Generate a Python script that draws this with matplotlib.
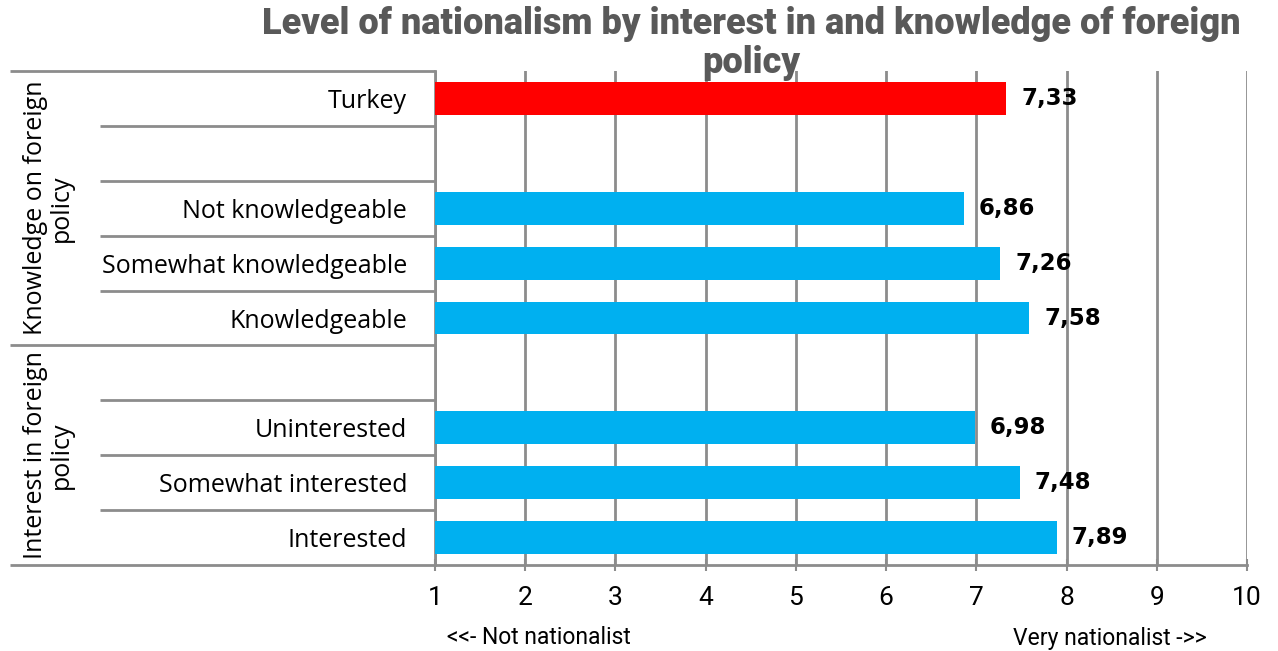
import matplotlib
matplotlib.use("Agg")
import matplotlib.pyplot as plt
from matplotlib.transforms import blended_transform_factory

# Rows from top to bottom; empty strings are spacer rows
categories = ["Turkey", "", "Not knowledgeable", "Somewhat knowledgeable",
              "Knowledgeable", "", "Uninterested", "Somewhat interested",
              "Interested"]
values = [7.33, None, 6.86, 7.26, 7.58, None, 6.98, 7.48, 7.89]
value_labels = ["7,33", "", "6,86", "7,26", "7,58", "", "6,98", "7,48", "7,89"]
bar_colors = ["#FF0000", None, "#00B0F0", "#00B0F0", "#00B0F0", None,
              "#00B0F0", "#00B0F0", "#00B0F0"]

group_names = ["Knowledge on foreign\npolicy", "Interest in foreign\npolicy"]
group_spans = [(0, 4), (5, 8)]  # first and last row index of each group

x_ticks = [1, 2, 3, 4, 5, 6, 7, 8, 9, 10]
title = "Level of nationalism by interest in and knowledge of foreign\npolicy"
left_note = "<<- Not nationalist"
right_note = "Very nationalist ->>"

W, H = 1278, 651
fig = plt.figure(figsize=(W / 100, H / 100), dpi=100)
ax = fig.add_axes([435 / W, (H - 565) / H, (1247 - 435) / W, (565 - 71) / H])

grid_col = "#8C8C8C"
rows = list(range(len(categories)))
for r, v, c in zip(rows, values, bar_colors):
    if v is None:
        continue
    ax.barh(r, v, height=0.6, color=c, zorder=3)
    ax.text(v + 0.17, r, value_labels[r], va="center", ha="left",
            fontsize=16.5, fontweight="bold", family="DejaVu Sans",
            color="black", zorder=4)

ax.set_xlim(1, 10)
ax.set_ylim(len(categories) - 0.5, -0.5)
ax.set_xticks(x_ticks)
ax.set_xticklabels([str(t) for t in x_ticks], fontsize=19, family="Roboto")
ax.set_yticks(rows)
ax.set_yticklabels(categories, fontsize=18, family="Open Sans")
ax.tick_params(axis="y", length=0, pad=20)
ax.tick_params(axis="x", length=8, width=1.5, color=grid_col, pad=11,
               direction="inout")

ax.xaxis.grid(True, color=grid_col, linewidth=2, zorder=0)
for s in ["top", "right"]:
    ax.spines[s].set_visible(False)
for s in ["left", "bottom"]:
    ax.spines[s].set_color(grid_col)
    ax.spines[s].set_linewidth(2)

# Row separators in the label area
tr = blended_transform_factory(ax.transAxes, ax.transData)
outer_x = (10 - 435) / (1247 - 435)
inner_x = (100 - 435) / (1247 - 435)
group_edges = {-0.5, 4.5, len(categories) - 0.5}
for k in range(len(categories) + 1):
    y = k - 0.5
    x0 = outer_x if y in group_edges else inner_x
    ax.plot([x0, 0], [y, y], transform=tr, color=grid_col, linewidth=2,
            clip_on=False, solid_capstyle="butt")

# Group labels
for name, (a, b) in zip(group_names, group_spans):
    ax.text((48 - 435) / (1247 - 435), (a + b) / 2, name, transform=tr,
            rotation=90, ha="center", va="center", fontsize=18,
            family="Open Sans", linespacing=1.05)

fig.text(751 / W, 1 - 6 / H, title, ha="center", va="top", fontsize=26,
         fontweight="black", color="#595959", family="Roboto",
         linespacing=1.12)

fig.text(447 / W, 1 - 638 / H, left_note, ha="left", va="center",
         fontsize=16.5, family="Roboto")
fig.text(1207 / W, 1 - 638 / H, right_note, ha="right", va="center",
         fontsize=16.5, family="Roboto")

fig.savefig("out.png", dpi=100)
